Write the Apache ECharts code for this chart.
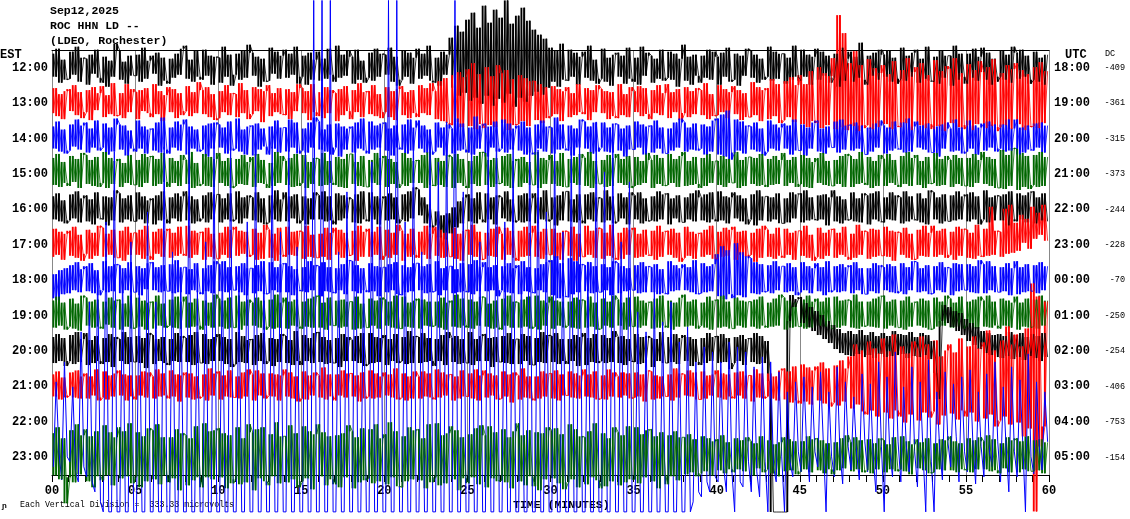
<!DOCTYPE html>
<html>
<head>
<meta charset="utf-8">
<script src="https://cdn.jsdelivr.net/npm/echarts@6/dist/echarts.min.js"></script>
<style>html,body{margin:0;padding:0;background:#fff;}#c{width:1130px;height:519px;}</style>
</head>
<body>
<div id="c"></div>
<script>
// ---- labels ----
const estLabels = ['12:00','13:00','14:00','15:00','16:00','17:00','18:00','19:00','20:00','21:00','22:00','23:00'];
const utcLabels = ['18:00','19:00','20:00','21:00','22:00','23:00','00:00','01:00','02:00','03:00','04:00','05:00'];
const dcLabels  = ['-409','-361','-315','-373','-244','-228','-70','-250','-254','-406','-753','-154'];
const traceColors = ['#000000','#ff0000','#0000ff','#006600'];

// amplitude units per trace spacing (one row)
const ROW = 35.42;
// samples per minute (one every 10 s); up = positive
const SPM = 6;

const h12 = [
14,-9,19,-15,8,-12, -11,16,-7,21,-14,10, 9,-17,13,-6,18,-10, -15,11,-19,7,-9,24, 17,-12,6,-16,12,-8,
-8,13,-14,20,-11,7, 12,-6,15,-18,10,-13, -16,9,-10,14,-7,19, 22,-11,8,-14,17,-9, -12,18,-8,12,-17,11,
10,-15,21,-9,13,-18, -7,14,-12,17,-10,23, 15,-8,11,-19,9,-14, -13,20,-6,16,-11,12, 18,-10,14,-7,21,-16,
-9,12,-17,15,-12,8, 16,-13,9,-11,19,-7, -14,22,-10,13,-8,17, 11,-16,18,-12,7,-15, -10,15,-13,19,-9,14,
13,-7,20,-14,11,-18, -12,17,-9,15,-16,10, 19,-11,14,-8,22,-13, -15,10,-18,16,-7,13, 30,-20,42,-28,36,-25,
48,-33,55,-30,40,-36, 62,-28,45,-38,58,-31, 50,-35,68,-26,44,-39, 52,-30,60,-34,47,-28, 38,-24,33,-27,29,-20,
20,-14,17,-19,24,-12, -13,18,-9,15,-17,11, 16,-10,22,-13,8,-16, -11,19,-14,10,-18,13, 15,-9,12,-16,20,-11,
-14,10,-17,21,-8,15, 12,-15,9,-11,18,-13, -10,16,-12,14,-19,9, 23,-13,11,-17,13,-8, -15,12,-10,18,-12,16,
11,-17,15,-9,20,-14, -12,14,-18,12,-8,19, 17,-10,13,-15,9,-12, -9,21,-13,16,-11,14, 14,-16,10,-12,22,-9,
-13,18,-9,13,-17,11, 19,-12,16,-8,12,-15, -10,14,-19,20,-13,9, 16,-14,11,-10,25,-12, -17,12,-8,15,-12,18,
13,-9,17,-14,10,-16, -11,20,-13,12,-9,15, 18,-15,9,-11,21,-13, -14,11,-16,17,-10,12, 12,-18,22,-12,14,-9,
-16,14,-10,19,-13,11, 20,-12,15,-17,9,-14, -9,17,-12,13,-15,21, 15,-11,18,-9,12,-16, -12,16,-14,10,-17,13];

const h13 = [
-10,15,-13,9,-16,12, 14,-8,18,-12,11,-15, -9,13,-17,16,-7,10, 17,-14,8,-11,20,-13, -12,10,-15,19,-9,14,
11,-16,13,-8,15,-10, -14,19,-11,12,-18,8, 16,-9,14,-15,10,-12, -8,17,-13,11,-10,21, 13,-11,16,-14,9,-17,
-15,12,-9,18,-12,10, 9,-14,20,-10,13,-16, -11,16,-8,14,-19,12, 18,-13,10,-9,15,-11, -12,14,-16,11,-8,19,
15,-10,12,-17,19,-9, -13,11,-15,16,-10,13, 10,-18,14,-12,17,-8, -16,13,-9,20,-14,11, 12,-11,18,-13,9,-15,
-9,16,-14,12,-17,14, 17,-12,11,-15,13,-10, -14,18,-10,15,-12,20, 12,-16,22,-18,25,-20, -22,28,-19,31,-24,26,
34,-23,40,-26,29,-21, -25,36,-22,27,-24,38, 30,-20,33,-27,24,-22, -21,28,-18,25,-23,22, 22,-17,19,-20,16,-15,
-13,17,-11,14,-18,12, 16,-14,10,-12,19,-9, -11,15,-17,13,-9,18, 14,-10,12,-16,11,-13, -15,19,-12,9,-14,16,
12,-9,17,-13,15,-11, -16,13,-10,18,-12,10, 19,-15,11,-9,14,-17, -10,16,-14,12,-11,15, 13,-12,20,-16,9,-13,
-12,18,-9,14,-15,11, 17,-11,13,-17,10,-14, -14,21,-12,16,-18,13, 15,-16,24,-13,19,-20, -17,22,-14,26,-19,18,
28,-21,19,-24,32,-18, -20,36,-25,30,-22,27, 45,-26,88,-24,70,-27, 40,-23,52,-28,38,-25, -22,44,-26,35,-24,30,
38,-21,29,-26,42,-23, -24,33,-20,45,-27,31, 36,-22,40,-25,28,-21, -26,43,-23,32,-28,37, 34,-20,45,-24,30,-26,
-22,39,-27,33,-21,42, 31,-25,36,-23,44,-28, -24,30,-22,38,-26,34, 40,-21,33,-27,29,-24, -23,36,-25,41,-20,32];

const h14 = [
12,-10,17,-13,9,-15, -12,14,-8,19,-11,13, 16,-14,10,-9,18,-12, -9,15,-16,11,-13,20, 14,-11,13,-17,8,-10,
-13,18,-10,12,-15,9, 10,-12,16,-14,21,-11, -15,11,-9,17,-12,14, 19,-16,12,-10,9,-13, -11,13,-18,15,-10,16,
14,-9,11,-15,17,-12, -10,20,-13,9,-16,12, 13,-17,15,-11,10,-8, -16,12,-10,18,-14,11, 11,-13,19,-9,16,-15,
-12,10,-14,16,-9,21, 17,-11,9,-13,14,-16, -9,15,-18,12,-11,10, 12,-14,16,-10,20,-12, -15,17,-11,13,-9,15,
16,-12,10,-17,13,-9, -11,14,-15,19,-12,11, 18,-10,13,-14,9,-16, -13,16,-9,11,-17,14, 10,-15,20,-12,15,-11,
-14,11,-16,22,-10,13, 15,-18,12,-9,17,-13, -10,19,-14,15,-11,10, 13,-12,17,-16,11,-14, -16,14,-10,18,-13,12,
11,-15,21,-11,14,-10, -12,13,-17,10,-9,19, 17,-10,12,-15,16,-13, -9,16,-13,11,-14,15, 14,-12,10,-18,13,-11,
-11,17,-9,14,-16,12, 13,-14,18,-10,11,-15, -15,10,-12,16,-9,20, 16,-13,11,-11,15,-12, -10,14,-16,12,-13,18,
20,-16,24,-18,28,-21, -14,19,-12,17,-15,13, 12,-11,16,-13,10,-17, -13,18,-10,14,-12,11, 15,-10,13,-16,19,-12,
-12,14,-17,11,-10,16, 18,-13,10,-15,12,-9, -9,17,-14,19,-11,13, 14,-12,16,-10,13,-16, -16,11,-13,15,-9,18,
13,-15,11,-12,17,-10, -11,16,-14,20,-13,12, 17,-9,13,-11,15,-14, -14,12,-18,14,-10,16, 10,-13,19,-12,11,-15,
-13,18,-10,13,-16,11, 15,-12,17,-9,14,-13, -10,14,-13,19,-12,10, 19,-16,11,-14,13,-11, -12,15,-9,16,-14,13];

const h15 = [
16,-11,20,-13,12,-9, -12,18,-8,15,-14,21, 19,-10,14,-12,17,-13, -9,22,-14,16,-10,13, 15,-13,11,-9,19,-11,
-11,14,-13,20,-9,17, 18,-12,15,-10,21,-8, -13,16,-9,13,-12,19, 14,-10,22,-14,11,-12, -10,20,-12,17,-13,15,
21,-9,13,-12,16,-14, -12,15,-10,19,-11,12, 17,-13,20,-9,14,-10, -14,11,-12,22,-9,18, 13,-11,16,-13,20,-12,
-9,19,-14,12,-10,16, 15,-12,21,-11,13,-9, -11,17,-13,15,-14,20, 20,-10,12,-12,18,-13, -13,14,-9,21,-11,16,
18,-13,15,-10,12,-14, -10,21,-12,16,-9,13, 14,-9,19,-14,22,-11, -12,16,-11,13,-13,19, 17,-14,20,-9,15,-12,
-14,13,-10,18,-12,22, 21,-11,14,-13,16,-10, -9,18,-12,20,-14,13, 15,-13,17,-9,12,-11, -11,22,-14,16,-10,14,
19,-10,13,-12,21,-13, -13,15,-9,17,-11,20, 16,-12,22,-14,13,-10, -10,14,-13,19,-12,16, 20,-9,15,-11,18,-14,
-12,17,-11,13,-9,21, 14,-14,19,-10,16,-12, -11,20,-9,15,-13,18, 22,-12,13,-11,17,-10, -14,16,-12,20,-9,13,
13,-11,18,-13,15,-9, -9,22,-14,14,-12,17, 17,-10,16,-12,20,-11, -13,15,-11,18,-10,14, 21,-12,14,-9,17,-13,
-10,19,-13,16,-14,12, 16,-9,21,-11,13,-12, -12,14,-10,18,-13,20, 18,-13,15,-10,22,-9, -11,17,-14,13,-12,19,
15,-12,20,-9,14,-11, -13,18,-10,22,-12,16, 19,-11,13,-14,17,-10, -9,21,-12,15,-11,18, 14,-13,19,-10,16,-12,
-12,16,-13,20,-9,14, 22,-10,17,-12,15,-14, -14,24,-15,19,-12,26, 25,-16,21,-13,18,-15, -11,19,-13,22,-12,17];

const h16 = [
13,-10,16,-12,9,-14, -11,15,-9,18,-13,11, 14,-12,10,-15,17,-9, -10,13,-16,12,-11,19, 16,-13,11,-10,14,-12,
-12,17,-10,13,-14,9, 11,-15,14,-11,18,-10, -14,12,-9,16,-12,13, 18,-11,13,-14,10,-12, -9,14,-13,17,-10,15,
15,-13,11,-10,16,-12, -10,18,-14,12,-9,14, 12,-11,17,-13,11,-15, -13,14,-10,19,-12,10, 17,-12,13,-9,15,-14,
-11,13,-15,11,-10,17, 14,-10,18,-12,13,-11, -15,16,-11,14,-9,12, 10,-13,15,-14,18,-10, -12,17,-10,13,-15,11,
13,-11,16,-10,12,-14, -10,15,-12,18,-9,22, 20,-6,12,-14,5,-18, -16,-2,-28,-6,-30,-4, -24,2,-18,8,-14,12,
15,-12,11,-14,17,-10, -13,16,-10,12,-15,14, 12,-9,18,-12,10,-13, -11,14,-13,16,-12,11, 16,-14,12,-10,19,-12,
-10,12,-16,14,-11,18, 18,-12,10,-13,15,-11, -14,15,-10,17,-12,12, 11,-13,19,-11,13,-14, -12,16,-9,12,-15,17,
14,-10,17,-14,11,-12, -11,13,-12,18,-10,15, 16,-15,11,-9,14,-13, -13,12,-10,16,-12,19, 12,-11,15,-13,17,-10,
-12,18,-11,13,-14,12, 17,-9,14,-12,11,-15, -10,15,-16,19,-11,13, 13,-12,12,-10,16,-14, -14,11,-13,17,-9,15,
16,-13,19,-11,12,-10, -11,14,-10,15,-16,12, 19,-12,13,-14,10,-11, -10,17,-12,11,-13,16, 14,-15,16,-10,18,-12,
-13,12,-10,17,-11,14, 12,-14,18,-12,13,-10, -11,16,-13,11,-15,19, 17,-10,12,-14,15,-12, -12,14,-11,18,-10,13,
15,-12,17,-10,13,-15, -10,19,-13,12,-11,14, 13,-11,15,-16,18,-10, -12,16,-10,14,-13,17, 18,-14,12,-11,16,-12];

const h17 = [
-12,16,-10,13,-15,11, 14,-11,18,-13,10,-16, -9,15,-14,12,-11,19, 17,-12,11,-10,15,-13, -13,14,-16,18,-10,12,
12,-10,15,-14,19,-11, -15,13,-9,16,-12,14, 16,-13,12,-11,18,-9, -11,19,-13,14,-10,12, 13,-15,17,-12,11,-14,
-14,12,-10,18,-13,15, 18,-11,14,-9,13,-12, -10,16,-15,12,-14,20, 15,-13,11,-16,17,-10, -12,18,-10,13,-11,14,
13,-14,19,-12,10,-13, -13,11,-12,17,-15,12, 17,-10,15,-13,12,-11, -10,14,-16,19,-12,13, 16,-12,13,-10,18,-15,
-11,15,-13,12,-10,20, 14,-16,11,-12,16,-10, -13,13,-10,19,-14,11, 18,-11,15,-13,12,-12, -12,17,-14,11,-16,14,
15,-10,20,-12,13,-15, -14,12,-11,16,-12,18, 11,-15,17,-10,14,-13, -16,14,-12,18,-11,12, 19,-12,13,-14,16,-10,
-10,16,-13,12,-15,14, 13,-11,18,-16,11,-12, -12,19,-10,14,-13,17, 16,-14,12,-11,20,-13, -15,12,-14,17,-10,15,
17,-13,11,-12,15,-10, -11,14,-15,19,-12,13, 14,-10,16,-13,12,-17, -13,18,-11,13,-14,11, 12,-12,15,-10,19,-14,
-14,13,-12,17,-11,15, 18,-15,13,-10,14,-12, -10,12,-17,16,-13,19, 15,-12,11,-14,17,-11, -13,16,-10,12,-15,14,
14,-11,19,-13,10,-16, -12,17,-14,12,-11,15, 16,-13,12,-10,18,-12, -15,11,-13,20,-10,14, 13,-14,16,-12,15,-11,
-11,18,-12,14,-16,13, 12,-10,17,-13,11,-15, -14,15,-11,19,-12,12, 19,-12,14,-10,16,-13, -10,13,-15,18,-11,16,
15,-13,12,-14,20,-11, -12,16,-11,38,-10,14, 13,-12,36,-9,40,-8, 22,-6,30,2,26,-4, 38,6,32,10,40,4];

const h18 = [
-18,6,-20,10,-14,12, -13,15,-10,18,-12,11, 14,-11,17,-13,10,-15, -10,19,-12,14,-11,16, 15,-13,12,-10,18,-12,
-12,14,-15,12,-9,17, 18,-10,13,-12,15,-11, -11,16,-13,20,-12,13, 13,-14,11,-10,17,-12, -14,12,-11,15,-13,19,
16,-11,19,-12,13,-10, -10,14,-12,17,-15,12, 12,-13,15,-11,19,-14, -13,18,-10,13,-12,16, 17,-12,14,-15,11,-10,
-11,13,-12,19,-10,15, 14,-16,18,-11,13,-12, -13,12,-10,16,-14,20, 19,-11,15,-13,12,-10, -12,17,-11,14,-16,13,
13,-12,16,-10,18,-14, -15,15,-12,13,-11,17, 17,-10,14,-13,16,-12, -11,19,-15,12,-10,14, 14,-13,11,-12,17,-11,
-12,16,-14,20,-11,13, 18,-11,13,-10,15,-16, -10,14,-12,17,-13,12, 15,-14,19,-11,13,-12, -13,12,-10,16,-12,18,
20,-15,24,-18,17,-16, -17,22,-14,19,-12,16, 15,-11,18,-13,14,-12, -12,16,-10,13,-15,19, 17,-13,14,-11,12,-10,
-10,15,-13,18,-12,14, 13,-12,16,-14,11,-13, -14,19,-11,15,-10,12, 16,-10,13,-12,20,-14, -13,17,-12,14,-11,16,
26,-16,34,-19,30,-14, -18,37,-15,28,-17,24, 22,-13,18,-14,16,-12, -11,15,-13,19,-10,14, 14,-12,17,-11,13,-15,
-12,18,-10,14,-13,12, 17,-11,13,-15,19,-12, -10,14,-12,16,-11,13, 15,-13,18,-10,12,-14, -14,12,-11,17,-13,15,
13,-10,16,-12,14,-13, -11,17,-14,13,-10,19, 18,-12,12,-11,15,-14, -13,14,-10,18,-12,13, 12,-15,17,-11,16,-10,
-10,16,-12,14,-13,20, 16,-13,19,-10,14,-12, -12,13,-11,17,-15,12, 19,-14,13,-12,16,-11, -11,15,-13,18,-10,14];

const h19 = [
15,-12,19,-10,13,-14, -11,17,-13,12,-15,20, 18,-10,14,-12,16,-11, -13,14,-9,18,-12,15, 16,-14,12,-11,20,-13,
-12,18,-11,15,-14,13, 14,-13,20,-10,12,-12, -10,16,-12,19,-13,14, 19,-12,13,-11,17,-10, -14,15,-10,13,-12,21,
17,-11,15,-13,18,-12, -12,20,-14,14,-10,16, 13,-10,18,-12,15,-14, -11,16,-13,21,-12,13, 18,-13,14,-10,16,-11,
-13,14,-11,17,-12,19, 20,-12,13,-14,18,-10, -10,15,-12,16,-11,14, 14,-14,19,-13,12,-12, -12,17,-10,15,-13,18,
16,-10,14,-12,20,-13, -13,19,-11,13,-12,15, 17,-13,16,-10,14,-11, -10,14,-12,18,-14,13, 15,-11,21,-12,17,-10,
-12,16,-13,14,-10,19, 18,-11,12,-13,15,-12, -14,17,-10,20,-12,14, 13,-12,16,-11,19,-13, -11,20,-14,15,-10,13,
19,-13,15,-10,14,-12, -10,14,-12,18,-13,16, 15,-12,19,-11,13,-14, -13,17,-10,14,-12,20, 16,-10,13,-14,18,-11,
-11,19,-12,15,-10,13, 14,-13,17,-12,20,-10, -12,15,-14,13,-11,18, 21,-11,14,-10,16,-13, -10,13,-12,19,-14,15,
16,-12,20,-11,14,-13, -13,18,-10,15,-12,14, 14,-11,16,-13,19,-10, -12,13,-11,17,-10,21, 18,-14,15,-12,13,-11,
-11,16,-13,20,-12,14, 17,-10,14,-11,18,-13, -13,19,-12,15,-10,16, 15,-12,21,-13,14,-11, -10,14,-11,17,-12,19,
20,-13,14,-10,16,-12, -12,15,-14,19,-11,13, 14,-10,17,-12,15,-14, -13,18,-11,14,-10,20, 17,-12,13,-11,19,-13,
-10,14,-12,16,-13,19, 15,-11,20,-12,14,-10, -13,17,-10,15,-12,13, 19,-14,13,-11,17,-12, -11,16,-13,20,-10,15];

const h20 = [
14,-12,17,-10,13,-15, -10,16,-13,19,-11,12, 18,-14,11,-12,15,-10, -13,13,-11,17,-16,14, 12,-10,19,-13,14,-11,
-11,15,-12,13,-17,18, 16,-13,12,-10,14,-12, -14,12,-10,18,-11,15, 13,-11,16,-14,19,-12, -12,17,-13,12,-10,14,
17,-10,14,-13,12,-16, -13,19,-11,15,-12,11, 12,-14,16,-10,18,-13, -10,13,-15,12,-11,17, 15,-12,11,-14,20,-10,
-14,16,-10,13,-12,18, 19,-11,14,-13,11,-12, -12,13,-16,17,-10,14, 11,-10,15,-12,18,-15, -13,18,-12,14,-11,13,
16,-14,12,-10,17,-12, -10,14,-13,20,-12,15, 14,-12,18,-11,13,-10, -15,12,-10,16,-14,19, 13,-11,15,-13,12,-12,
-12,19,-14,12,-10,15, 17,-10,13,-16,14,-11, -11,15,-12,18,-13,12, 12,-13,17,-10,15,-14, -14,13,-11,19,-12,16,
15,-11,18,-13,12,-10, -13,12,-10,16,-15,14, 18,-14,13,-11,17,-12, -10,16,-12,13,-11,20, 14,-12,15,-14,12,-10,
-11,17,-13,14,-12,15, 13,-16,12,-10,19,-12, -12,14,-11,17,-13,13, 16,-10,14,-15,12,-11, -14,13,-12,18,-10,14,
15,-12,17,-11,13,-18, -12,14,-10,16,-14,12, 13,-11,18,-13,15,-12, 10,-30,-161,-161,-161,-161, -161,-161,30,56,44,52,
54,28,48,24,44,20, 40,16,36,12,30,8, 26,2,22,-2,18,-4, 20,-5,17,-3,21,-6, 16,-4,19,-7,15,-3,
18,-6,15,-5,20,-4, 17,-3,16,-7,19,-5, 14,-6,18,-4,16,-8, 10,-22,-48,30,46,28, 44,24,40,20,38,16,
32,10,28,6,24,2, 20,-2,18,-4,16,-6, 17,-7,15,-5,19,-8, 16,-6,18,-9,14,-5, 17,-7,15,-10,18,-6];

const h21 = [
12,-10,15,-13,9,-11, -9,14,-11,16,-12,10, 13,-12,10,-9,17,-14, -11,15,-13,11,-10,13, 16,-9,12,-14,11,-10,
-13,11,-9,15,-11,14, 10,-12,17,-10,13,-9, -12,16,-10,12,-15,11, 14,-11,13,-13,10,-12, -10,12,-14,18,-9,13,
15,-13,11,-10,16,-11, -11,10,-12,14,-10,17, 12,-14,16,-9,13,-12, -9,13,-10,12,-14,11, 17,-10,14,-12,10,-15,
-12,15,-13,11,-9,14, 11,-11,19,-13,12,-10, -14,12,-9,16,-11,13, 13,-10,11,-15,14,-12, -10,16,-12,13,-11,10,
14,-9,12,-11,18,-13, -11,13,-14,10,-12,15, 10,-12,15,-10,13,-11, -13,17,-11,14,-9,12, 12,-14,10,-12,16,-10,
-10,13,-12,17,-14,11, 16,-11,13,-9,11,-13, -12,15,-10,12,-16,14, 11,-13,18,-11,10,-12, -14,10,-12,15,-10,13,
13,-12,16,-14,12,-9, -9,15,-11,13,-12,11, 17,-10,12,-11,15,-13, -12,11,-13,17,-10,14, 10,-11,14,-9,13,-12,
-11,14,-10,12,-15,16, 15,-13,11,-12,10,-10, -10,12,-14,18,-11,13, 12,-9,16,-10,14,-13, -13,15,-12,11,-9,12,
16,-11,13,-13,12,-10, -12,14,-9,15,-12,11, 11,-15,17,-11,13,-12, -10,13,-12,10,-14,16, 18,-13,15,-16,20,-14,
-17,22,-15,19,-18,16, 20,-14,24,-17,18,-20, -16,21,-19,26,-15,18, 30,-22,42,-18,36,-25, -28,45,-24,38,-30,33,
48,-26,35,-32,52,-24, -30,40,-36,33,-28,45, 38,-34,50,-26,42,-31, -25,46,-38,30,-29,36, 42,-27,34,-33,48,-24,
-30,40,-26,50,-35,38, 44,-32,56,-28,36,-40, -34,46,-30,60,-38,42, 52,-36,40,-50,58,-42, 103,-125,90,-60,-40,85];

const h22 = [
-45,40,-30,-58,60,-35, -40,35,-50,-60,90,-45, -55,120,-60,-70,150,-80, -90,200,-90,-90,270,-90, -90,150,-90,-90,180,-90,
-90,140,-90,-90,210,-90, -90,120,-90,-90,275,-90, -90,170,-90,-90,150,-90, -90,280,-90,-90,130,-90, -90,180,-90,-90,275,-90,
-90,160,-90,-90,275,-90, -90,140,-90,-90,200,-90, -90,280,-90,-90,150,-90, -90,275,-90,-90,190,-90, -90,280,-90,-90,175,-90,
-90,280,-90,-90,422,-90, -90,422,-90,-90,422,-90, -90,170,-90,-90,230,-90, -90,280,-90,-90,150,-90, -90,260,-90,-90,280,-90,
-90,422,-90,-90,422,-90, -90,200,-90,-90,290,-90, -90,170,-90,-90,280,-90, -90,260,-90,-90,300,-90, -90,422,-90,-90,230,-90,
-90,290,-90,-90,180,-90, -90,280,-90,-90,300,-90, -90,200,-90,-90,275,-90, -90,150,-90,-90,290,-90, -90,272,-90,-90,210,-90,
-90,285,-90,-90,190,-90, -90,275,-90,-90,290,-90, -90,160,-90,-90,300,-90, -90,250,-90,-90,280,-90, -90,180,-90,-90,240,-90,
-90,110,-90,-90,90,-90, -90,130,-90,-90,100,-90, -90,120,-90,-90,80,-90, -90,95,-90,-80,60,-70, -75,75,-60,-70,70,-55,
-60,60,-45,-70,80,-50, -90,75,-60,-65,70,-40, -70,55,-50,-75,65,-40, -90,60,-45,-60,50,-35, -90,30,-40,-55,40,-30,
-50,45,-25,-60,35,-30, -45,50,-20,-90,30,-35, -55,55,-30,-62,40,-25, -48,25,-30,-58,48,-20, -50,38,-35,-70,60,-25,
-90,45,-30,-55,70,-20, -60,35,-25,-50,55,-30, -65,40,-30,-90,62,-40, -90,30,-25,-58,50,-20, -45,38,-15,-60,45,-30,
-50,52,-20,-62,30,-25, -55,48,-30,-45,60,-20, -60,35,-25,-70,55,-30, -55,42,-20,-90,68,-35, -52,40,-25,-48,30,-20];

const h23 = [
24,-18,30,-22,19,-46, -20,27,-25,33,-17,22, 28,-24,21,-30,26,-19, -23,32,-18,25,-28,20, 30,-21,26,-19,34,-26,
-19,25,-30,21,-24,29, 27,-22,33,-27,20,-18, -25,20,-21,28,-33,24, 22,-28,19,-23,31,-20, -30,34,-20,26,-22,27,
29,-20,24,-31,22,-26, -22,30,-27,19,-25,33, 25,-33,28,-21,30,-24, -28,23,-19,35,-26,21, 21,-25,32,-22,24,-30,
-24,31,-21,26,-32,23, 33,-19,25,-28,21,-22, -27,22,-30,24,-20,32, 26,-31,20,-25,29,-23, -21,28,-26,33,-24,19,
23,-27,35,-20,26,-29, -30,21,-24,30,-22,27, 28,-23,19,-31,33,-25, -20,34,-28,22,-26,24, 31,-22,27,-33,20,-21,
-26,23,-20,29,-27,32, 22,-30,31,-21,25,-24, -23,28,-25,20,-31,26, 34,-24,22,-28,27,-19, -29,25,-33,24,-22,30,
27,-21,29,-26,23,-32, -25,33,-22,28,-30,21, 20,-27,26,-20,34,-23, -31,24,-29,19,-24,30, 25,-28,22,-25,31,-22,
-22,30,-26,23,-20,27, 28,-24,21,-31,25,-18, -27,22,-19,26,-23,20, 20,-17,23,-15,18,-19, -16,21,-14,19,-18,16,
18,-13,22,-16,15,-12, -15,19,-12,17,-14,20, 16,-18,14,-11,21,-15, -12,17,-16,13,-19,15, 20,-14,18,-13,16,-17,
-14,16,-12,21,-15,18, 19,-13,17,-16,14,-12, -17,15,-13,19,-11,22, 15,-14,20,-12,17,-15, -13,18,-16,14,-12,19,
17,-15,13,-12,20,-14, -12,21,-14,16,-17,13, 18,-11,15,-13,19,-16, -15,14,-12,18,-13,17, 21,-13,16,-15,14,-12,
-13,19,-15,17,-12,20, 16,-12,22,-14,18,-13, -16,14,-11,20,-15,17, 19,-15,16,-12,21,-14, -14,17,-13,18,-16,15];

const traces = [h12,h13,h14,h15,h16,h17,h18,h19,h20,h21,h22,h23];

// recorder page limits (in row units)
const Y_TOP = -1.9, Y_BOT = 12.55;
function clampY(v){ return Math.max(Y_TOP, Math.min(Y_BOT, v)); }
const tOf = i => i / SPM + 0.5 / SPM;

// each sample drawn as a vertical stroke joining it to the next sample (helicorder pen style)
function strokeData(k, s){
  const out = [];
  for (let i = 0; i < s.length - 1; i++) out.push([tOf(i), clampY(k - s[i] / ROW), clampY(k - s[i+1] / ROW)]);
  return out;
}
function lineData(k, s){ return s.map((v, i) => [tOf(i), clampY(k - v / ROW)]); }

const series = [];
traces.forEach((s, k) => {
  const color = traceColors[k % 4];
  if (k === 10) {
    series.push({ name: estLabels[k], type: 'line', data: lineData(k, s), showSymbol: false, symbol: 'none',
      clip: false, silent: true, animation: false, z: 3, lineStyle: { width: 1, color: color } });
    return;
  }
  series.push({
    name: estLabels[k], type: 'custom', data: strokeData(k, s), clip: false, silent: true, animation: false, z: 3,
    encode: { x: 0, y: [1, 2] },
    renderItem: (params, api) => {
      const a = api.coord([api.value(0), api.value(1)]);
      const b = api.coord([api.value(0), api.value(2)]);
      return { type: 'line', silent: true,
        shape: { x1: a[0], y1: a[1], x2: b[0], y2: b[1] },
        style: { stroke: color, lineWidth: 1.9 } };
    }
  });
  // thin pen trace through the same samples
  series.push({ name: estLabels[k] + ' pen', type: 'line', data: lineData(k, s), showSymbol: false, symbol: 'none',
    clip: false, silent: true, animation: false, z: 3, lineStyle: { width: 0.8, color: color } });
});

const FONT = 'Liberation Mono';
const chart = echarts.init(document.getElementById('c'), null, {renderer: 'canvas'});
chart.setOption({
  backgroundColor: '#ffffff',
  animation: false,
  title: [
    { text: 'Sep12,2025\nROC HHN LD --\n(LDEO, Rochester)', left: 50, top: 4, padding: 0, z: 1,
      textStyle: { fontFamily: FONT, fontWeight: 'bold', fontSize: 11.5, lineHeight: 15, color: '#000' } },
    { text: 'EST', left: 0, top: 49, padding: 0, z: 1,
      textStyle: { fontFamily: FONT, fontWeight: 'bold', fontSize: 12, color: '#000' } },
    { text: 'UTC', left: 1065, top: 49, padding: 0, z: 1,
      textStyle: { fontFamily: FONT, fontWeight: 'bold', fontSize: 12, color: '#000' } },
    { text: 'DC', left: 1105, top: 49, padding: 0, z: 1,
      textStyle: { fontFamily: FONT, fontWeight: 'normal', fontSize: 8.5, color: '#000' } },
    { text: 'TIME (MINUTES)', left: 513, top: 499, padding: 0, z: 1,
      textStyle: { fontFamily: FONT, fontWeight: 'bold', fontSize: 11.5, color: '#000' } },
    { text: 'Each Vertical Division =  333.33 microvolts', left: 20, top: 501, padding: 0, z: 1,
      textStyle: { fontFamily: FONT, fontWeight: 'normal', fontSize: 8.3, color: '#000' } },
    { text: 'ɲ', left: 2, top: 502, padding: 0, z: 1,
      textStyle: { fontFamily: FONT, fontSize: 8, color: '#000' } }
  ],
  grid: { left: 52, right: 81, top: 50, bottom: 44, containLabel: false },
  xAxis: [
    { type: 'value', position: 'bottom', min: 0, max: 60, interval: 5,
      axisLine: { show: true, onZero: false, lineStyle: { color: '#000', width: 1 } },
      axisTick: { show: true, length: 7, lineStyle: { color: '#000' } },
      minorTick: { show: true, splitNumber: 5, length: 7, lineStyle: { color: '#000' } },
      splitLine: { show: true, lineStyle: { color: '#888888', width: 1 } },
      axisLabel: { margin: 10, fontFamily: FONT, fontWeight: 'bold', fontSize: 12, lineHeight: 12, color: '#000',
        formatter: v => (v < 10 ? '0' : '') + v } },
    { type: 'value', position: 'top', min: 0, max: 60,
      axisLine: { show: true, onZero: false, lineStyle: { color: '#000', width: 1 } },
      axisTick: { show: false }, axisLabel: { show: false }, splitLine: { show: false } }
  ],
  yAxis: [
    { type: 'value', min: -0.5, max: 11.5, inverse: true, show: false },
    { type: 'category', position: 'left', data: estLabels, inverse: true,
      axisLine: { show: false }, axisTick: { show: false }, splitLine: { show: false },
      axisLabel: { interval: 0, margin: 4, padding: [3,0,0,0], fontFamily: FONT, fontWeight: 'bold', fontSize: 12, color: '#000' } },
    { type: 'category', position: 'right', data: utcLabels, inverse: true,
      axisLine: { show: false }, axisTick: { show: false }, splitLine: { show: false },
      axisLabel: { interval: 0, margin: 5, padding: [3,0,0,0], fontFamily: FONT, fontWeight: 'bold', fontSize: 12, color: '#000' } },
    { type: 'category', position: 'right', data: dcLabels, inverse: true,
      axisLine: { show: false }, axisTick: { show: false }, splitLine: { show: false },
      axisLabel: { interval: 0, margin: 76, align: 'right', padding: [2,0,0,0], fontFamily: FONT, fontSize: 8.5, color: '#000' } }
  ],
  series: series
});
</script>
</body>
</html>
